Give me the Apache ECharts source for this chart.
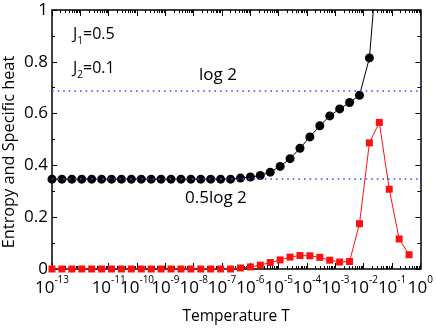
<!DOCTYPE html>
<html><head><meta charset="utf-8">
<script src="https://cdn.jsdelivr.net/npm/echarts@6/dist/echarts.min.js"></script>
<style>html,body{margin:0;padding:0;background:#fff}#c{width:436px;height:330px}</style>
</head><body><div id="c"></div>
<script>
// log10 of temperature for each computed point
const exponents = [-13,-12.65,-12.3,-11.95,-11.6,-11.25,-10.9,-10.55,-10.2,-9.85,-9.5,-9.15,-8.8,-8.45,-8.1,-7.75,-7.4,-7.05,-6.7,-6.35,-6,-5.65,-5.3,-4.95,-4.6,-4.25,-3.9,-3.55,-3.2,-2.85,-2.5,-2.15,-1.8,-1.45,-1.1,-0.75,-0.4];
const entropy = [0.347,0.347,0.347,0.347,0.347,0.347,0.347,0.347,0.347,0.347,0.347,0.347,0.347,0.347,0.347,0.347,0.347,0.347,0.347,
  0.351,0.355,0.361,0.374,0.396,0.426,0.466,0.510,0.553,0.591,0.618,0.643,0.671,0.815,1.28];
const specificHeat = [0,0,0,0,0,0,0,0,0,0,0,0,0,0,0,0,0,0,0,
  0.004,0.008,0.015,0.025,0.035,0.046,0.052,0.051,0.045,0.034,0.027,0.029,0.175,0.487,0.566,0.308,0.116,0.055];
const refLines = [{ value: 0.6931, label: 'log 2' }, { value: 0.3466, label: '0.5log 2' }];
const xMin = -13, xMax = 0;
const yTicks = [0, 0.2, 0.4, 0.6, 0.8, 1];

const minorX = [];
for (let n = xMin; n < xMax; n++) for (let m = 2; m <= 9; m++) minorX.push(n + Math.log10(m));

const FONT = '"Open Sans", "Noto Sans", sans-serif';
const chart = echarts.init(document.getElementById('c'));
const tl = { color: '#000', width: 1 };
const axisLine = { show: true, onZero: false, lineStyle: { color: '#000', width: 1.5 } };
const baseX = (pos, major, labels) => ({
  type: 'value', min: xMin, max: xMax, interval: 1, position: pos,
  axisLine: major ? axisLine : { show: false, onZero: false },
  axisTick: major ? { show: true, inside: true, length: 6, lineStyle: tl }
                  : { show: true, inside: true, length: 3, customValues: minorX, lineStyle: tl },
  axisLabel: labels ? {
    show: true, margin: 6, fontFamily: FONT, color: '#000',
    showMinLabel: true, showMaxLabel: true, hideOverlap: false,
    formatter: v => '{b|10}{s|' + v + '}',
    rich: {
      b: { fontSize: 17, fontFamily: FONT, color: '#000', verticalAlign: 'bottom', lineHeight: 22 },
      s: { fontSize: 10, fontFamily: FONT, color: '#000', verticalAlign: 'top', lineHeight: 12 }
    }
  } : { show: false },
  splitLine: { show: false }
});
const baseY = (pos, labels) => ({
  type: 'value', min: 0, max: 1, interval: 0.2, position: pos,
  axisLine: axisLine,
  axisTick: { show: true, inside: true, length: 5, lineStyle: tl },
  minorTick: { show: true, splitNumber: 2, length: 3, lineStyle: tl },
  axisLabel: labels ? { show: true, fontSize: 17, fontFamily: FONT, color: '#000', margin: 4,
    showMinLabel: true, showMaxLabel: true, customValues: yTicks } : { show: false },
  splitLine: { show: false }
});

const xAxes = [baseX('bottom', true, true), baseX('bottom', false, false), baseX('top', true, false), baseX('top', false, false)];
xAxes[0].name = 'Temperature T';
xAxes[0].nameLocation = 'middle';
xAxes[0].nameGap = 40;
xAxes[0].nameTextStyle = { fontSize: 15.5, fontFamily: FONT, color: '#000' };
const yAxes = [baseY('left', true), baseY('right', false)];

const sub = (n, val) => ({
  text: '{a|J}{u|' + n + '}{a|=' + val + '}',
  rich: {
    a: { fontSize: 16, fontFamily: FONT, fill: '#000', verticalAlign: 'bottom', lineHeight: 20 },
    u: { fontSize: 10, fontFamily: FONT, fill: '#000', verticalAlign: 'bottom', lineHeight: 12, padding: [0, 0, -4, 0] }
  }
});

chart.setOption({
  animation: false,
  grid: { left: 52, right: 9, top: 10, bottom: 59, containLabel: false },
  xAxis: xAxes,
  yAxis: yAxes,
  series: [
    {
      type: 'line', name: 'refs', xAxisIndex: 0, yAxisIndex: 0, data: [], silent: true,
      markLine: { silent: true, symbol: 'none', label: { show: false },
        lineStyle: { color: '#2f4dff', width: 1.6, type: [1.6, 4] },
        data: refLines.map(r => ({ yAxis: r.value })) },
      z: 1
    },
    {
      type: 'line', name: 'Specific heat', xAxisIndex: 0, yAxisIndex: 0,
      data: exponents.map((e, i) => [e, specificHeat[i]]),
      symbol: 'rect', symbolSize: 7, showAllSymbol: true,
      itemStyle: { color: '#ff1010' }, lineStyle: { color: '#ff1010', width: 1 }, z: 3
    },
    {
      type: 'line', name: 'Entropy', xAxisIndex: 0, yAxisIndex: 0,
      data: entropy.map((v, i) => [exponents[i], v]),
      symbol: 'circle', symbolSize: 9, showAllSymbol: true,
      itemStyle: { color: '#000' }, lineStyle: { color: '#000', width: 1 }, z: 4
    }
  ],
  graphic: [
    { type: 'text', x: 9, y: 152, rotation: Math.PI / 2,
      style: { text: 'Entropy and Specific heat', fontSize: 16.3, fontFamily: FONT, fill: '#000', align: 'center', verticalAlign: 'middle' } },
    { type: 'text', left: 73, top: 26, style: sub(1, '0.5') },
    { type: 'text', left: 73, top: 60, style: sub(2, '0.1') },
    { type: 'text', left: 199, top: 67, style: { text: refLines[0].label, fontSize: 17, fontFamily: FONT, fill: '#000' } },
    { type: 'text', left: 185, top: 190, style: { text: refLines[1].label, fontSize: 17, fontFamily: FONT, fill: '#000' } }
  ]
});
</script></body></html>
